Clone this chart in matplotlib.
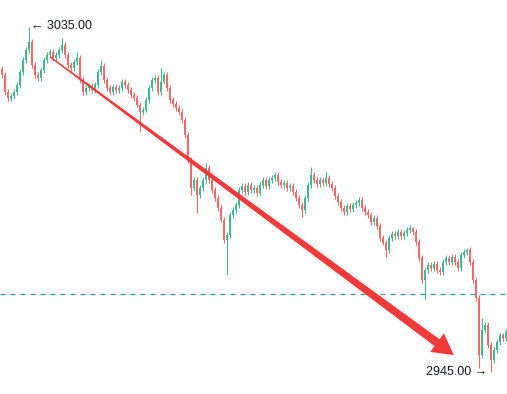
import matplotlib
matplotlib.use("Agg")
import matplotlib.pyplot as plt
from matplotlib.patches import Polygon
import numpy as np

# ---- data -------------------------------------------------------------
closes = [
    3022.5, 3018.0, 3016.5, 3017.0, 3018.0, 3019.9, 3023.3, 3026.4, 3029.0, 3031.1,
    3025.1, 3022.5, 3021.7, 3023.8, 3026.4, 3027.7, 3028.5, 3026.9, 3027.7, 3029.0,
    3030.3, 3027.7, 3025.1, 3024.3, 3025.9, 3026.9, 3021.2, 3018.0, 3019.1, 3019.6,
    3018.6, 3019.9, 3023.3, 3024.8, 3021.2, 3019.1, 3018.0, 3019.3, 3018.6, 3019.1,
    3020.7, 3019.9, 3018.6, 3017.3, 3016.5, 3014.7, 3012.8, 3013.4, 3016.0, 3019.1,
    3021.2, 3021.7, 3018.0, 3020.7, 3022.5, 3019.1, 3016.0, 3014.9, 3013.9, 3012.8,
    3010.7, 3006.8, 3000.3, 2993.0, 2995.1, 2991.2, 2993.0, 2995.1, 2998.2, 2995.1,
    2992.5, 2990.4, 2987.8, 2984.7, 2979.4, 2980.7, 2986.0, 2987.3, 2988.6, 2992.5,
    2993.5, 2992.0, 2993.8, 2992.5, 2993.0, 2991.7, 2993.8, 2995.1, 2993.5, 2995.1,
    2995.6, 2996.4, 2994.6, 2993.8, 2994.3, 2993.0, 2993.5, 2992.0, 2990.4, 2988.6,
    2987.3, 2990.4, 2993.8, 2996.4, 2995.1, 2994.0, 2995.1, 2994.3, 2995.6, 2994.0,
    2993.0, 2990.9, 2989.3, 2987.8, 2986.7, 2988.3, 2987.5, 2988.6, 2989.1, 2989.9,
    2987.8, 2986.7, 2986.0, 2984.1, 2985.2, 2983.1, 2980.0, 2978.7, 2976.8, 2980.0,
    2981.0, 2980.5, 2981.5, 2980.5, 2981.3, 2982.0, 2982.6, 2981.5, 2978.9, 2974.7,
    2969.0, 2971.6, 2972.9, 2972.1, 2973.2, 2971.6, 2971.1, 2973.7, 2974.7, 2973.7,
    2975.0, 2973.7, 2972.1, 2975.5, 2976.3, 2976.8, 2973.7, 2969.0, 2964.3, 2949.4,
    2956.0, 2957.3, 2952.0, 2948.1, 2950.7, 2952.8, 2954.6, 2953.9, 2955.4,
]
first_open = 3024.0
high_spikes = {9: 3035.0, 20: 3032.1, 25: 3028.5, 33: 3026.4, 53: 3024.3, 68: 2999.5,
               91: 2997.2, 103: 2998.5, 108: 2997.2, 137: 2982.8, 155: 2977.3, 160: 2959.1}
low_spikes = {46: 3007.6, 63: 2991.2, 65: 2986.5, 75: 2970.3, 100: 2985.4, 128: 2975.0,
              141: 2964.0, 159: 2946.0, 163: 2945.0}
level_line = 2965.3
high_label = "3035.00"
low_label = "2945.00"
high_idx = 9
low_idx = 163

# ---- figure -----------------------------------------------------------
W, H = 507, 394
fig = plt.figure(figsize=(W / 100, H / 100), dpi=100)
ax = fig.add_axes([0, 0, 1, 1])
ax.set_xlim(-0.5, W / 3 - 0.5)
ax.set_ylim(2939.26, 3042.04)
ax.axis("off")

n = len(closes)
opens = [first_open] + closes[:-1]
up_col = "#3fb893"
dn_col = "#ee6b6b"
for i in range(n):
    o, c = opens[i], closes[i]
    hi = max(o, c) + 0.7
    lo = min(o, c) - 0.7
    hi = high_spikes.get(i, hi)
    lo = low_spikes.get(i, lo)
    col = up_col if c >= o else dn_col
    ax.vlines(i, lo, hi, color=col, lw=0.8, zorder=2)
    body = max(abs(c - o), 0.25)
    ax.bar(i, body, bottom=min(o, c), width=0.6, color=col, lw=0, zorder=2)

# dashed level line
ax.axhline(level_line, color="#2a9d8f", lw=0.9, dashes=(4, 4), zorder=1)

# tapered arrow (drawn in display space)
fig.canvas.draw()
start = np.array(ax.transData.transform((16.2, 3027.2)))
end = np.array(ax.transData.transform((150.8, 2949.4)))
d = end - start
L = np.hypot(*d)
u = d / L
nrm = np.array([-u[1], u[0]])
head_len = 21
head_w = 11.5
w0, w1 = 0.7, 4.2
base = end - u * head_len
pts = [start + nrm * w0, base + nrm * w1, base + nrm * head_w, end,
       base - nrm * head_w, base - nrm * w1, start - nrm * w0]
pts_data = ax.transData.inverted().transform(np.array(pts))
ax.add_patch(Polygon(pts_data, closed=True, facecolor="#f23a3a", edgecolor="none", zorder=5))

# labels
fam = ["Liberation Sans", "DejaVu Sans"]
ax.annotate("\u2190 " + high_label, xy=(high_idx, high_spikes[high_idx]), xytext=(1.5, 1),
            textcoords="offset points", ha="left", va="center", fontsize=9,
            family=fam, color="#131722", zorder=6)
ax.annotate(low_label + " \u2192", xy=(low_idx, low_spikes[low_idx]), xytext=(-2.0, 0),
            textcoords="offset points", ha="right", va="center", fontsize=9,
            family=fam, color="#131722", zorder=6)

fig.savefig("out.png", dpi=100, facecolor="white")
